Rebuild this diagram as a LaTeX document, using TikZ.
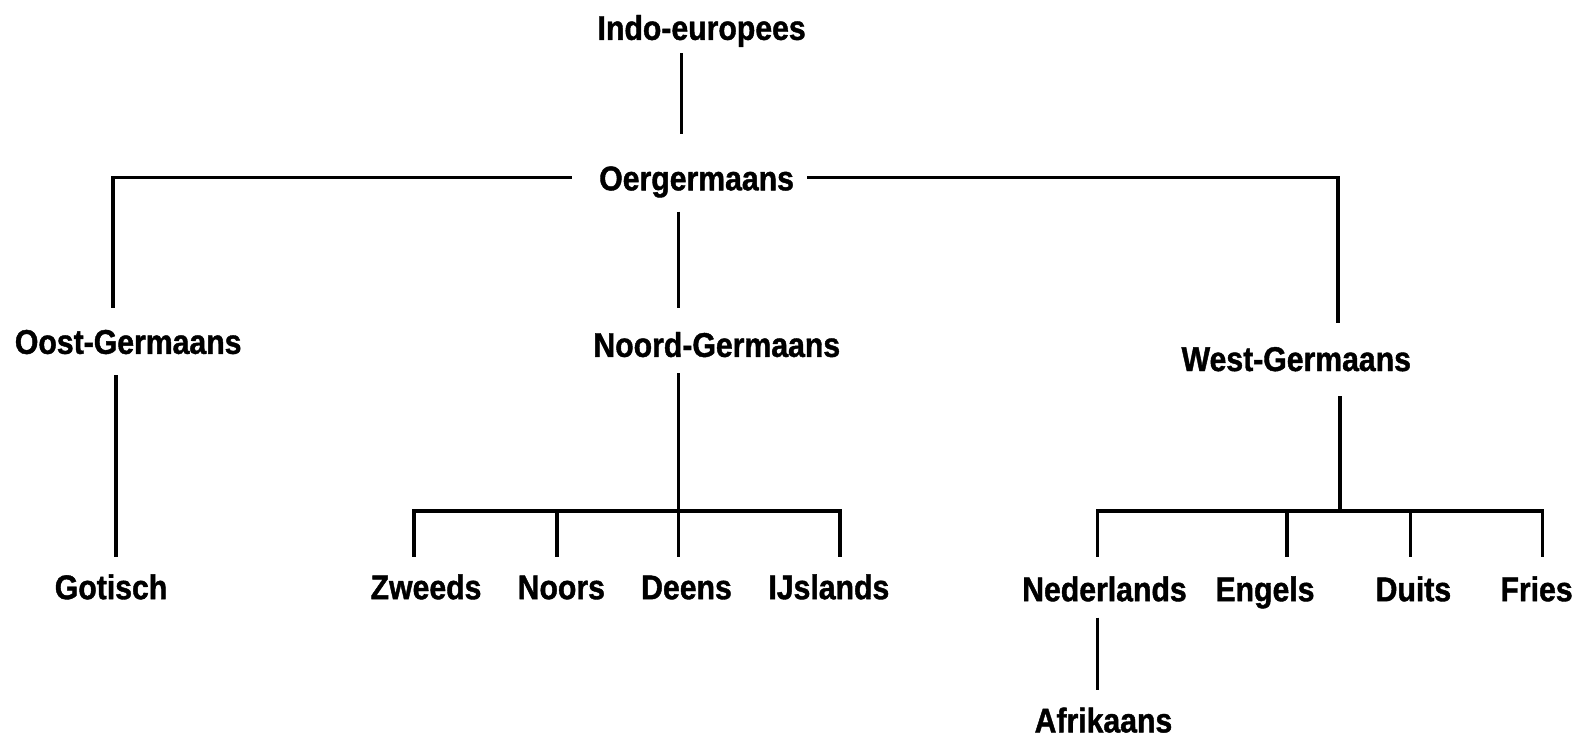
\documentclass[tikz,border=0pt]{standalone}
\usepackage{fontspec}
\newfontfamily\treefont{Liberation Sans}[FakeStretch=0.88, FakeBold=1.2]
\usetikzlibrary{positioning}
\tikzset{
  lang/.style={font=\treefont\bfseries\fontsize{34pt}{36pt}\selectfont, inner sep=0pt, text height=25pt, text depth=0pt},
  link/.style={draw=black, line width=3.6pt},
}

\begin{document}
\begin{tikzpicture}[x=1pt, y=1pt]
  \useasboundingbox (0,0) rectangle (1568,730);
  % top of the tree
  \node[lang] (indo) at (695,703) {Indo-europees};
  \node[lang] (oer) at (690,554) {Oergermaans};
  \node[lang] (oost) at (127,392) {Oost-Germaans};
  \node[lang] (noord) at (710,389) {Noord-Germaans};
  \node[lang] (west) at (1284,375) {West-Germaans};
  % leaves
  \node[lang] (gotisch) at (110,149) {Gotisch};
  \node[lang] (zweeds) at (422,149) {Zweeds};
  \node[lang] (noors) at (556,149) {Noors};
  \node[lang] (deens) at (680,149) {Deens};
  \node[lang] (ijslands) at (821,149) {IJslands};
  \node[lang] (nederlands) at (1094,147) {Nederlands};
  \node[lang] (engels) at (1253,147) {Engels};
  \node[lang] (duits) at (1400,147) {Duits};
  \node[lang] (fries) at (1522,147) {Fries};
  \node[lang] (afrikaans) at (1093,17) {Afrikaans};
  \coordinate (nj) at (672,224);
  \coordinate (wj) at (1327,224);

  \draw[link] ([xshift=-20pt,yshift=-13pt]indo.south) -- ([xshift=-15pt,yshift=31pt]oer.north);
  \draw[link] ([xshift=-27pt]oer.west) -| ([xshift=-15pt,yshift=20pt]oost.north);
  \draw[link] ([xshift=13pt]oer.east) -| ([xshift=41pt,yshift=22pt]west.north);
  \draw[link] ([xshift=-18pt,yshift=-21pt]oer.south) -- ([xshift=-38pt,yshift=23pt]noord.north);
  \draw[link] ([xshift=-12pt,yshift=-21pt]oost.south) -- ([xshift=5pt,yshift=17pt]gotisch.north);
  % north branch
  \draw[link] ([xshift=-38pt,yshift=-16pt]noord.south) -- (nj);
  \foreach \c/\dx in {zweeds/-12, noors/-4, deens/-8, ijslands/11}
    \draw[link] (nj) -| ([xshift=\dx pt,yshift=17pt]\c.north);
  % west branch
  \draw[link] ([xshift=43pt,yshift=-25pt]west.south) -- (wj);
  \foreach \c/\dx in {nederlands/-7, engels/22, duits/-3, fries/6}
    \draw[link] (wj) -| ([xshift=\dx pt,yshift=19pt]\c.north);
  \draw[link] ([xshift=-7pt,yshift=-16pt]nederlands.south) -- ([xshift=-6pt,yshift=17pt]afrikaans.north);
\end{tikzpicture}
\end{document}
